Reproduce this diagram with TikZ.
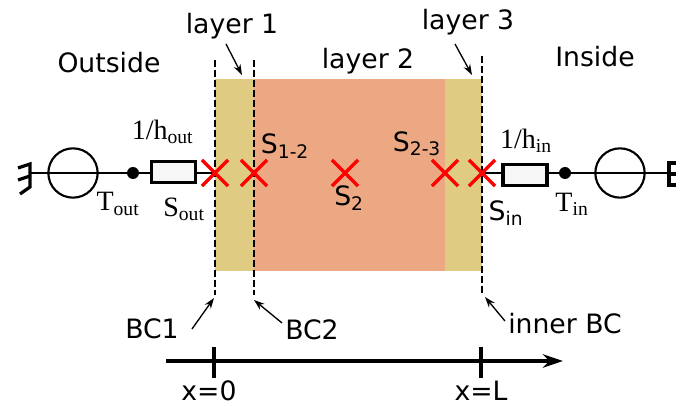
\documentclass[tikz,border=0pt]{standalone}
\usepackage{fontspec}
\setmainfont{DejaVu Sans}
\newfontfamily\timesfont{Liberation Serif}
\usepackage{tikz}
\usetikzlibrary{arrows.meta,positioning,calc,shapes.misc}
\definecolor{layeryellow}{HTML}{DFCB82}
\definecolor{layerorange}{HTML}{ECA883}
\tikzset{
  lbl/.style={font=\fontsize{20}{23}\selectfont, inner sep=0pt},
  serif/.style={font=\fontsize{21}{24}\selectfont\timesfont, inner sep=0pt},
  bound/.style={dash pattern=on 5pt off 2.5pt, line width=1.7pt},
  wire/.style={line width=1.6pt},
  lead/.style={-{Stealth[length=8pt,width=5.5pt]}, line width=1pt},
  xmark/.style={cross out, draw=red, line width=2.6pt, minimum size=17pt, inner sep=0pt},
  sourcec/.style={circle, draw, line width=1.6pt, minimum size=37pt, inner sep=0pt},
  tdot/.style={circle, fill=black, minimum size=9pt, inner sep=0pt},
  resbox/.style={rectangle, draw, line width=2.4pt, fill=black!3, minimum width=33pt, minimum height=16pt, inner sep=0pt},
}
\begin{document}
\begin{tikzpicture}[x=0.75pt, y=-0.75pt, >=Stealth]
\useasboundingbox (0,0) rectangle (676,406);
% layers
\fill[layeryellow] (215,79) rectangle (254,271);
\fill[layerorange] (254,79) rectangle (445,271);
\fill[layeryellow] (445,79) rectangle (482,271);
% boundaries
\coordinate (bc1top) at (215,60);
\coordinate (bc1bot) at (215,295);
\coordinate (bc2top) at (254,60);
\coordinate (bc2bot) at (254,295);
\coordinate (bc3top) at (482,56);
\coordinate (bc3bot) at (482,295);
\draw[bound] (bc1top)--(bc1bot);
\draw[bound] (bc2top)--(bc2bot);
\draw[bound] (bc3top)--(bc3bot);
% network
\coordinate (sout) at (215,173);
\coordinate (s12) at (254,173);
\coordinate (s2) at (345,173);
\coordinate (s23) at (445,173);
\coordinate (sin) at (482,173);
\coordinate (gndl) at (30,173);
\coordinate (gndr) at (669,173);
\node[sourcec] (srcout) at (73,173) {};
\node[tdot] (tout) at (133,173) {};
\node[resbox] (rout) at (173.5,172) {};
\node[resbox] (rin) at (525,175) {};
\node[tdot] (tin) at (565,173) {};
\node[sourcec] (srcin) at (620,173) {};
\draw[wire] (gndl)--(tout);
\draw[wire] (tout)--(rout.west|-tout);
\draw[wire] (rout.east|-sout)--(sout);
\draw[wire] (sin)--(rin.west|-sin);
\draw[wire] (rin.east|-tin)--(tin);
\draw[wire] (tin)--(gndr);
% grounds
\draw[line width=2.4pt] (18,168)--(30,164)--(30,187)--(20,194);
\draw[line width=2.4pt] (18,180)--(30,176);
\draw[line width=2.4pt] (676,163)--(669,163)--(669,185)--(676,185);
\draw[line width=2.4pt] (669,174)--(676,174);
% marks
\node[xmark] (xout) at (sout) {};
\node[xmark] (x12) at (s12) {};
\node[xmark] (x2) at (s2) {};
\node[xmark] (x23) at (s23) {};
\node[xmark] (xin) at (sin) {};
% labels
\node[lbl] (outside) at (109,63) {Outside};
\node[lbl] (inside) at (595,57) {Inside};
\node[lbl] (layer1) at (232,26) {layer 1};
\node[lbl] (layer2) at (368,61) {layer 2};
\node[lbl] (layer3) at (468,22) {layer 3};
\node[serif] (hout) at (162.5,132) {1/h\textsubscript{out}};
\node[serif] (lblTout) at (118,204) {T\textsubscript{out}};
\node[serif] (lblSout) at (184,209) {S\textsubscript{out}};
\node[serif] (hin) at (526,141) {1/h\textsubscript{in}};
\node[serif] (lblTin) at (572,204) {T\textsubscript{in}};
\node[lbl] (lblS12) at (285,146) {S\textsubscript{1-2}};
\node[lbl] (lblS2) at (349,198) {S\textsubscript{2}};
\node[lbl] (lblS23) at (417,144) {S\textsubscript{2-3}};
\node[lbl] (lblSin) at (506,213) {S\textsubscript{in}};
\node[lbl] (bc1) at (152,329) {BC1};
\node[lbl] (bc2) at (312,330) {BC2};
\node[lbl] (innerbc) at (565,324) {inner BC};
% leaders
\coordinate (l1from) at (226,44);
\coordinate (l1to) at (242,75);
\coordinate (l3from) at (455,44);
\coordinate (l3to) at (472,75);
\draw[lead] (l1from)--(l1to);
\draw[lead] (l3from)--(l3to);
\draw[lead] (bc1.east)++(13,0)--(214,298);
\draw[lead] (bc2.west)++(-3,-7)--(254,300);
\draw[lead] (innerbc.west)++(-3,-3)--(485,297);
% axis
\coordinate (axl) at (166,361);
\coordinate (axr) at (563,361);
\draw[-{Stealth[length=15pt,width=10pt]}, line width=2.7pt] (axl)--(axr);
\node[lbl] (x0) at (209,391) {x=0};
\node[lbl] (xL) at (481,391) {x=L};
\draw[line width=2.6pt] (214,347)--(214,378);
\draw[line width=2.6pt] (481,347)--(481,378);
\end{tikzpicture}
\end{document}
